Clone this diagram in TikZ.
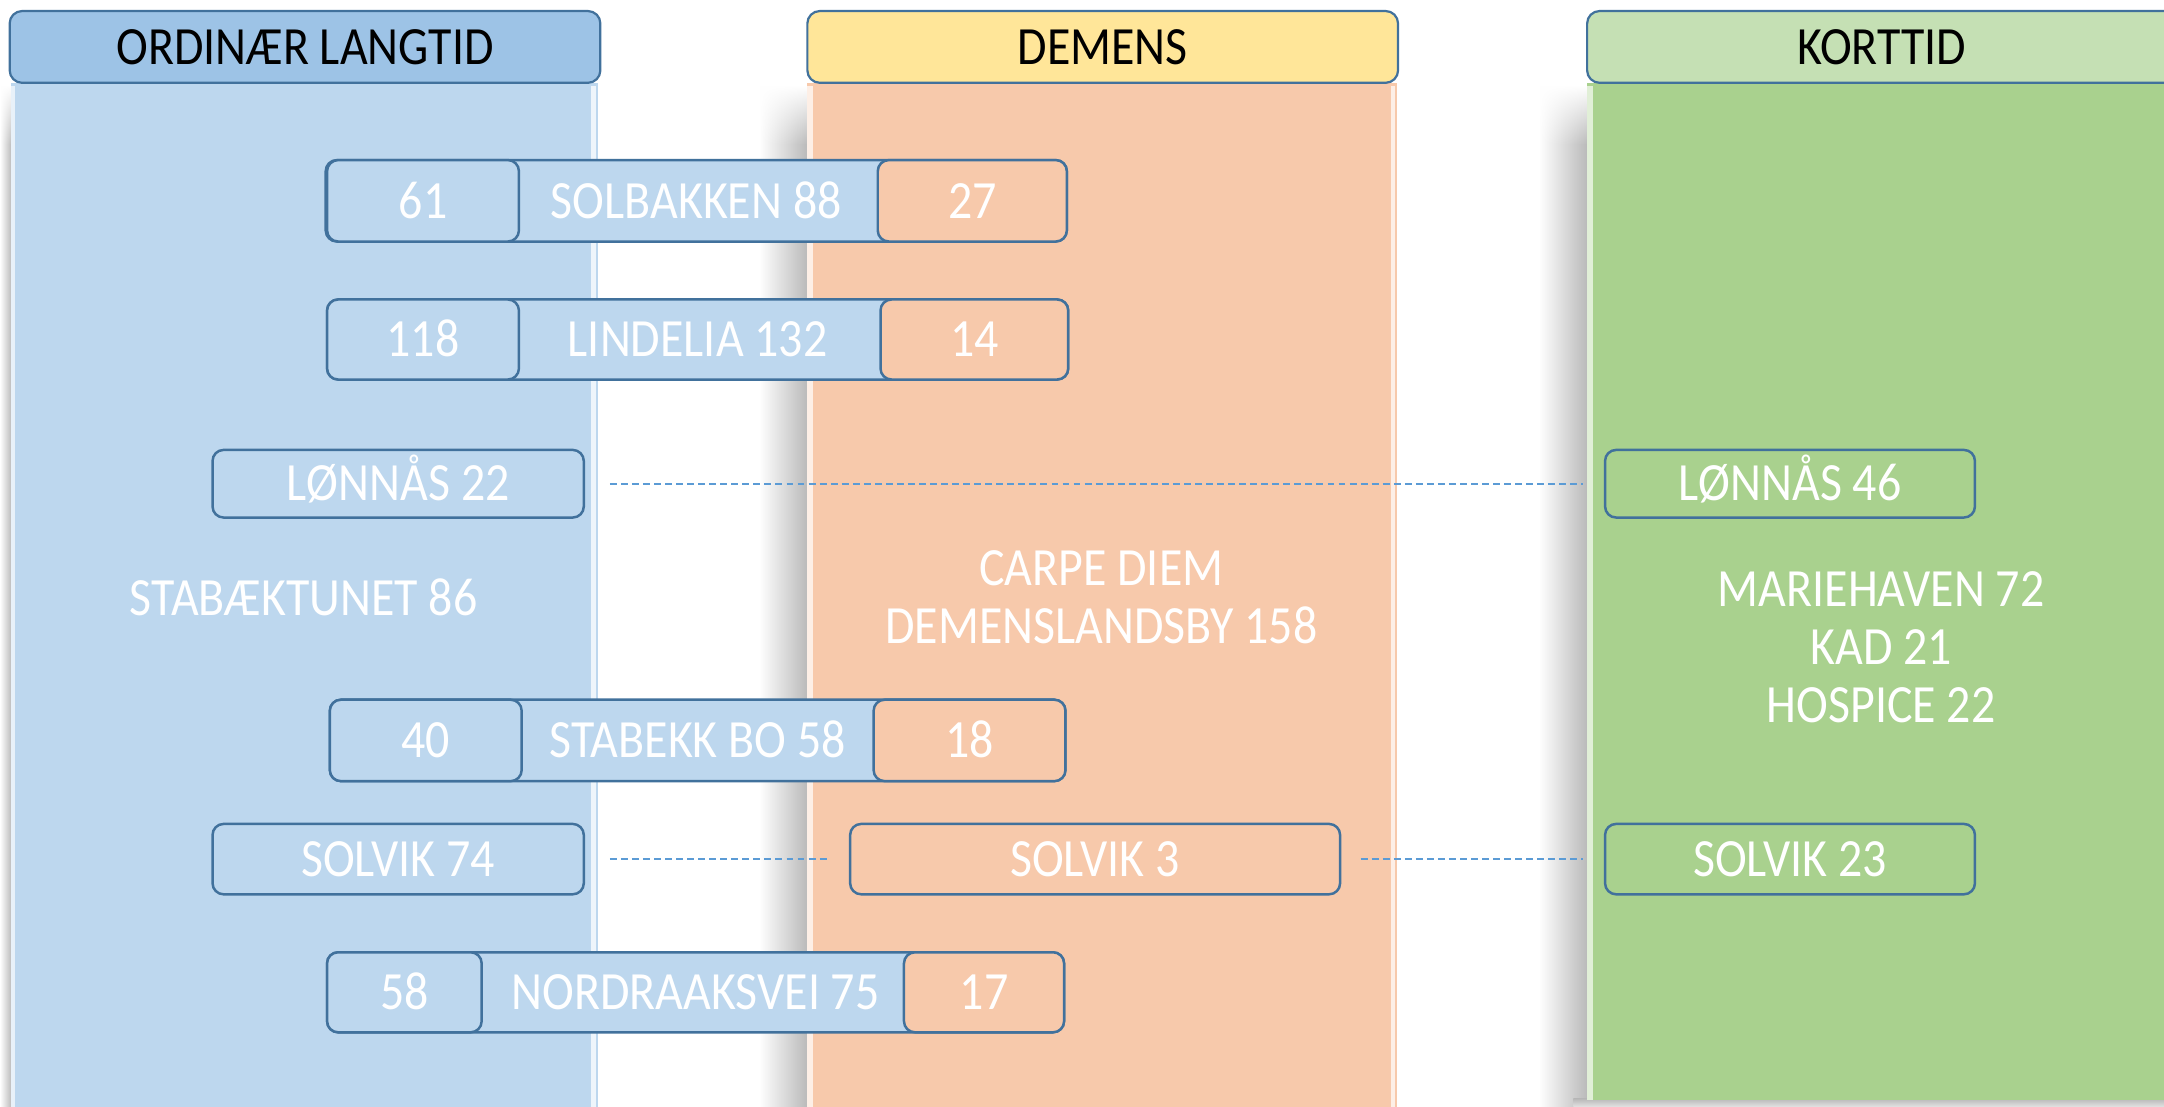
\documentclass[tikz,border=0pt]{standalone}
\usepackage{fontspec}
\setmainfont{Carlito}[FakeStretch=0.89]
\usetikzlibrary{fadings}
\definecolor{hdrblue}{HTML}{9DC3E6}
\definecolor{bodyblue}{HTML}{BDD7EE}
\definecolor{hdryellow}{HTML}{FFE699}
\definecolor{bodyorange}{HTML}{F7C9AB}
\definecolor{hdrgreen}{HTML}{C5E0B4}
\definecolor{bodygreen}{HTML}{A9D18E}
\definecolor{edgeclr}{HTML}{41719C}
\definecolor{dashclr}{HTML}{5B9BD5}
\newcommand\myfs{\fontsize{39}{42}\selectfont}
\tikzset{
  hdr/.style={draw=edgeclr, line width=1.6pt, rounded corners=9pt, inner sep=0pt,
    minimum height=52pt, text=black, font=\myfs, text height=25pt, text depth=0pt},
  box/.style={draw=edgeclr, line width=1.8pt, rounded corners=8pt, inner sep=0pt,
    text=white, font=\myfs, text height=25pt, text depth=0pt},
  freetext/.style={text=white, font=\myfs, align=center, inner sep=0pt},
  dashln/.style={draw=dashclr, line width=1.2pt, dash pattern=on 5pt off 3pt},
  shadowside/.style={left color=white, right color=black!28},
}
\begin{document}
\begin{tikzpicture}[x=1pt,y=-1pt]
\clip (0,0) rectangle (1568,802);
\fill[white] (0,0) rectangle (1568,802);
% shadows
\shade[left color=white, right color=black!26, path fading=north] (0,62) rectangle (8,105);
\shade[left color=white, right color=black!26] (0,105) rectangle (8,802);
\shade[shadowside, path fading=north] (550,62) rectangle (586,105);
\shade[shadowside] (550,105) rectangle (586,802);
\shade[shadowside, path fading=north] (1115,62) rectangle (1151,105);
\shade[shadowside] (1115,105) rectangle (1151,802);
\shade[top color=black!28, bottom color=white] (1140,796) rectangle (1568,806);
% column bodies
\fill[bodyblue] (8,60) rectangle (433,802);
\fill[bodyorange] (585,60) rectangle (1012,802);
\fill[bodygreen] (1150,60) rectangle (1577,797);
% bevel highlights
\fill[white!65!bodyblue] (8,62) rectangle (11,802);
\fill[white!75!bodyblue] (428,62) rectangle (432,802);
\fill[white!70!bodyorange] (585,62) rectangle (589,802);
\fill[white!70!bodyorange] (1008,62) rectangle (1011,802);
\fill[white!65!bodygreen] (1150,62) rectangle (1154,797);
% headers
\node[hdr, fill=hdrblue, minimum width=428pt] (h1) at (221,34) {ORDINÆR LANGTID};
\node[hdr, fill=hdryellow, minimum width=428pt] (h2) at (799,34) {DEMENS};
\node[hdr, fill=hdrgreen, minimum width=427pt] (h3) at (1363.5,34) {KORTTID};
% free texts
\node[freetext] (stab) at (220,433) {STABÆKTUNET 86};
\node[freetext] (carpe) at (798,433) {CARPE DIEM\\DEMENSLANDSBY 158};
\node[freetext] (marie) at (1363,469) {MARIEHAVEN 72\\KAD 21\\HOSPICE 22};
% single boxes
\node[box, fill=bodyblue, minimum width=269pt, minimum height=49pt] (l22) at (288.5,350.5) {LØNNÅS 22};
\node[box, fill=bodygreen, minimum width=268pt, minimum height=49pt] (l46) at (1297,350.5) {LØNNÅS 46};
\node[box, fill=bodyblue, minimum width=269pt, minimum height=51pt] (s74) at (288.5,622.5) {SOLVIK 74};
\node[box, fill=bodyorange, minimum width=355pt, minimum height=51pt] (s3) at (793.5,622.5) {SOLVIK 3};
\node[box, fill=bodygreen, minimum width=268pt, minimum height=51pt] (s23) at (1297,622.5) {SOLVIK 23};
% dashed connectors
\draw[dashln, shorten <=18pt, shorten >=15pt] (l22.east) -- (l46.west);
\draw[dashln, shorten <=18pt, shorten >=15pt] (s74.east) -- (s3.west);
\draw[dashln, shorten <=14pt, shorten >=15pt] (s3.east) -- (s23.west);
% combined rows
\node[box, fill=bodyblue, minimum width=537pt, minimum height=59pt] (solb) at (504.5,145.5) {SOLBAKKEN 88};
\node[box, fill=bodyblue, minimum width=139pt, minimum height=59pt] (solbL) at (306.5,145.5) {61};
\node[box, fill=bodyorange, minimum width=137pt, minimum height=59pt] (solbR) at (704.5,145.5) {27};
\node[box, fill=bodyblue, minimum width=537pt, minimum height=58pt] (lind) at (505.5,246) {LINDELIA 132};
\node[box, fill=bodyblue, minimum width=139pt, minimum height=58pt] (lindL) at (306.5,246) {118};
\node[box, fill=bodyorange, minimum width=136pt, minimum height=58pt] (lindR) at (706,246) {14};
\node[box, fill=bodyblue, minimum width=533pt, minimum height=59pt] (stbo) at (505.5,536.5) {STABEKK BO 58};
\node[box, fill=bodyblue, minimum width=139pt, minimum height=59pt] (stboL) at (308.5,536.5) {40};
\node[box, fill=bodyorange, minimum width=139pt, minimum height=59pt] (stboR) at (702.5,536.5) {18};
\node[box, fill=bodyblue, minimum width=534pt, minimum height=58pt] (nord) at (504,719) {NORDRAAKSVEI 75};
\node[box, fill=bodyblue, minimum width=112pt, minimum height=58pt] (nordL) at (293,719) {58};
\node[box, fill=bodyorange, minimum width=116pt, minimum height=58pt] (nordR) at (713,719) {17};
\end{tikzpicture}
\end{document}
